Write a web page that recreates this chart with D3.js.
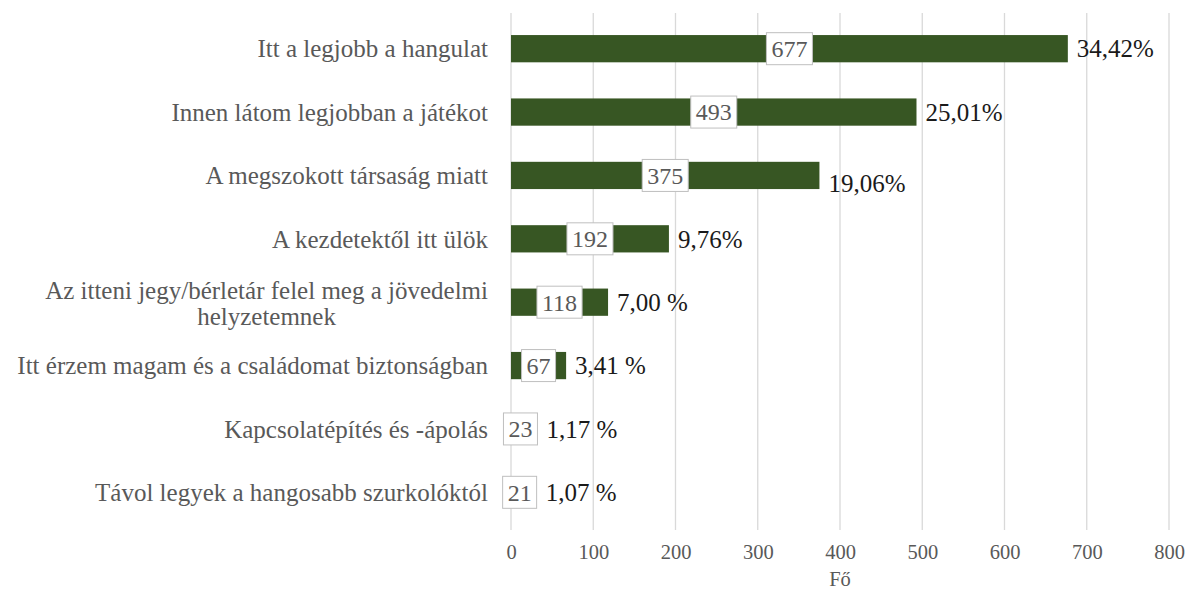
<!DOCTYPE html>
<html>
<head>
<meta charset="utf-8">
<script src="https://cdn.jsdelivr.net/npm/d3@7"></script>
<style>
  html, body { margin: 0; padding: 0; background: #fff; }
  svg { display: block; }
</style>
</head>
<body>
<svg id="chart" width="1192" height="592"></svg>
<script>
// Reasons for choosing a seat in the stadium (number of respondents)
const categories = [
  "Itt a legjobb a hangulat",
  "Innen látom legjobban a játékot",
  "A megszokott társaság miatt",
  "A kezdetektől itt ülök",
  "Az itteni jegy/bérletár felel meg a jövedelmi helyzetemnek",
  "Itt érzem magam és a családomat biztonságban",
  "Kapcsolatépítés és -ápolás",
  "Távol legyek a hangosabb szurkolóktól"
];
const counts = [677, 493, 375, 192, 118, 67, 23, 21];
const shares = ["34,42%", "25,01%", "19,06%", "9,76%", "7,00 %", "3,41 %", "1,17 %", "1,07 %"];
const xTicks = [0, 100, 200, 300, 400, 500, 600, 700, 800];
const axisTitle = "Fő";

const svg = d3.select("#chart");
const margin = { left: 511, right: 23, top: 17, bottom: 68 };
const W = 1192, H = 592;
const fontFam = "'Liberation Serif', 'Times New Roman', serif";
const labelRight = 488;

const x = d3.scaleLinear().domain([0, 800]).range([margin.left, margin.left + 658]);
const y = d3.scaleBand().domain(categories).range([margin.top, H - margin.bottom]).paddingInner(0.57).paddingOuter(0.285);

// vertical gridlines
svg.append("g")
  .selectAll("line")
  .data(xTicks)
  .join("line")
  .attr("x1", d => x(d)).attr("x2", d => x(d))
  .attr("y1", margin.top - 4).attr("y2", H - margin.bottom + 6)
  .attr("stroke", "#d9d9d9").attr("stroke-width", 1.3);

// x axis tick labels
const xAxis = d3.axisBottom(x).tickValues(xTicks).tickSize(0).tickPadding(0).tickFormat(d3.format("d"));
const gx = svg.append("g").attr("transform", `translate(0,${H - margin.bottom + 20})`).call(xAxis);
gx.select(".domain").remove();
gx.selectAll("text")
  .attr("font-family", fontFam).attr("font-size", 20.5).attr("fill", "#595959");

svg.append("text")
  .attr("x", x(400)).attr("y", 586)
  .attr("text-anchor", "middle")
  .attr("font-family", fontFam).attr("font-size", 20.5).attr("fill", "#595959")
  .text(axisTitle);

// bars
svg.append("g")
  .selectAll("rect")
  .data(categories)
  .join("rect")
  .attr("x", x(0))
  .attr("y", d => y(d))
  .attr("width", (d, i) => x(counts[i]) - x(0))
  .attr("height", y.bandwidth())
  .attr("fill", "#375623");

// category labels (the long one wrapped onto two centred lines)
const catG = svg.append("g");
categories.forEach((c, i) => {
  const cy = y(c) + y.bandwidth() / 2;
  const t = catG.append("text")
    .attr("font-family", fontFam).attr("font-size", 25).attr("fill", "#595959");
  if (c.length > 50) {
    const parts = ["Az itteni jegy/bérletár felel meg a jövedelmi", "helyzetemnek"];
    t.attr("text-anchor", "end");
    const first = t.append("tspan")
      .attr("x", labelRight).attr("y", cy - 12).attr("dy", "0.35em").text(parts[0]);
    const w = first.node().getComputedTextLength();
    t.append("tspan")
      .attr("x", labelRight - w / 2).attr("y", cy + 14).attr("dy", "0.35em")
      .attr("text-anchor", "middle").text(parts[1]);
  } else {
    t.attr("text-anchor", "end").attr("x", labelRight).attr("y", cy).attr("dy", "0.35em").text(c);
  }
});

// value labels in boxes centred on the bars
const valG = svg.append("g");
const boxEnds = [];
categories.forEach((c, i) => {
  const cx = (x(0) + x(counts[i])) / 2;
  const cy = y(c) + y.bandwidth() / 2;
  const g = valG.append("g");
  const txt = g.append("text")
    .attr("x", cx).attr("y", cy).attr("dy", "0.35em")
    .attr("text-anchor", "middle")
    .attr("font-family", fontFam).attr("font-size", 24).attr("fill", "#595959")
    .text(counts[i]);
  const bb = txt.node().getBBox();
  const padX = 5;
  g.insert("rect", "text")
    .attr("x", bb.x - padX).attr("y", cy - 16)
    .attr("width", bb.width + 2 * padX).attr("height", 32)
    .attr("fill", "#fff").attr("stroke", "#bfbfbf").attr("stroke-width", 1);
  boxEnds.push(bb.x + bb.width + padX);
});

// percentage labels to the right of each bar
const pctG = svg.append("g");
categories.forEach((c, i) => {
  const cy = y(c) + y.bandwidth() / 2;
  const end = Math.max(x(counts[i]), boxEnds[i]);
  pctG.append("text")
    .attr("x", end + 9).attr("y", cy + (i === 2 ? 8 : 0)).attr("dy", "0.35em")
    .attr("font-family", fontFam).attr("font-size", 25).attr("fill", "#1a1a1a")
    .text(shares[i]);
});
</script>
</body>
</html>
